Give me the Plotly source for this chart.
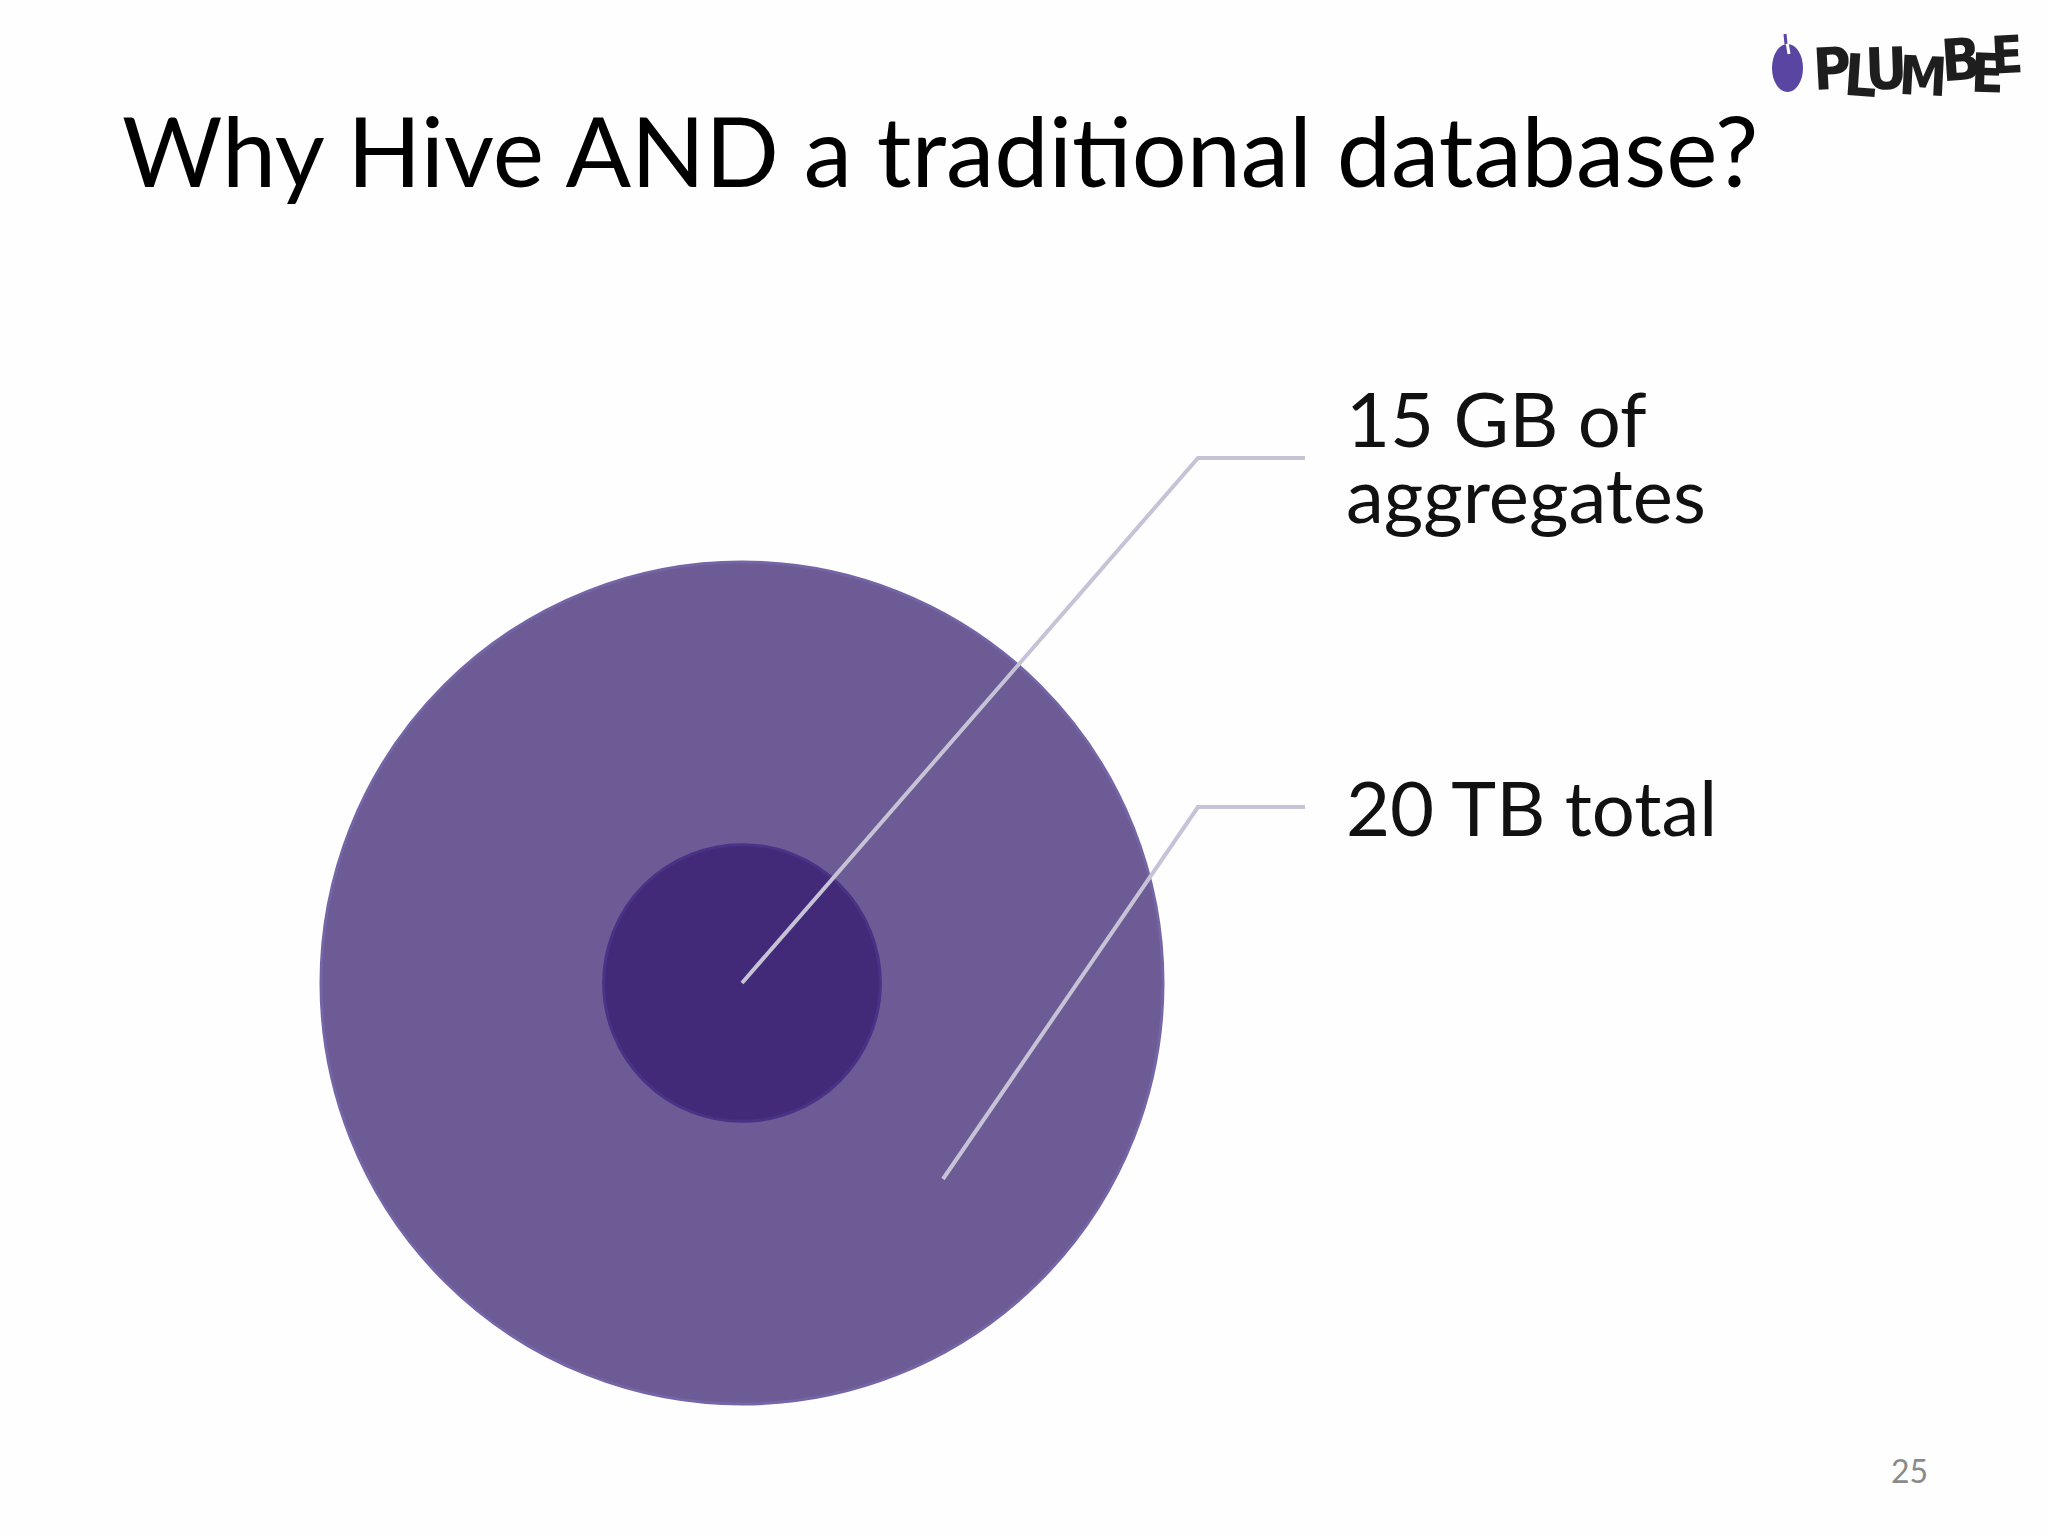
import numpy as np
import plotly.graph_objects as go

# data
segments = ["20 TB total", "15 GB of aggregates"]
label_lines = [["20 TB total"], ["15 GB of", "aggregates"]]
bubble_area = [100, 10.8]          # relative area of each disc as drawn
bubble_colors = ["#6d5b95", "#432a78"]
bubble_edges = ["#7565a6", "#4a3286"]

title = "Why Hive AND a traditional database?"
page_number = "25"
logo_letters = list("PLUMBEE")

# page is laid out in pixel units
W, H = 2048, 1536
center = (742, 983)
max_diameter = 842

fig = go.Figure()

# discs, biggest first so the small one sits on top
fig.add_trace(go.Scatter(
    x=[center[0]] * len(segments), y=[center[1]] * len(segments),
    mode="markers",
    marker=dict(
        size=np.sqrt(bubble_area),
        sizemode="diameter",
        sizeref=np.sqrt(max(bubble_area)) / max_diameter,
        color=bubble_colors,
        line=dict(color=bubble_edges, width=3),
        opacity=1,
    ),
    hoverinfo="text", hovertext=segments, showlegend=False,
))

# leader lines: anchor inside the disc -> elbow -> end by the label
leader_anchor = [(943, 1179), (742, 983)]
leader_elbow = [(1198, 807), (1198, 458)]
leader_end = [(1305, 807), (1305, 458)]
for a, e, t in zip(leader_anchor, leader_elbow, leader_end):
    fig.add_trace(go.Scatter(
        x=[a[0], e[0], t[0]], y=[a[1], e[1], t[1]],
        mode="lines", line=dict(color="#c6c3d7", width=4),
        hoverinfo="skip", showlegend=False,
    ))

label_font = dict(family="Lato, 'Open Sans', sans-serif", size=76, color="#111111")
label_baselines = [[833], [444, 520]]
for lines, bases in zip(label_lines, label_baselines):
    for txt, b in zip(lines, bases):
        fig.add_annotation(x=1344, y=b - 27, text=txt, showarrow=False,
                           xanchor="left", yanchor="middle", font=label_font)

# title
fig.add_annotation(x=120, y=149, text=title, showarrow=False,
                   xanchor="left", yanchor="middle",
                   font=dict(family="Lato, 'Open Sans', sans-serif", size=97, color="#000000"))

# page number
fig.add_annotation(x=1909, y=1470, text=page_number, showarrow=False,
                   font=dict(family="Lato, sans-serif", size=32, color="#8a8a8a"))

# logo: plum + wobbly letters
fig.add_shape(type="circle", x0=1772, x1=1803, y0=44, y1=92,
              fillcolor="#5a45a3", line=dict(width=0))
fig.add_shape(type="line", x0=1786, x1=1789, y0=36, y1=54,
              line=dict(color="#ffffff", width=3))
fig.add_shape(type="line", x0=1785, x1=1786, y0=34, y1=44,
              line=dict(color="#5a45a3", width=3))
letter_x = [1832, 1860, 1886, 1923, 1961, 1987, 2007]
letter_y = [69, 76, 69, 76, 60, 73, 55]
letter_rot = [-3, 4, -2, 3, -4, 2, -3]
letter_size = [58, 58, 58, 54, 58, 54, 52]
for ch, lx, ly, rot, sz in zip(logo_letters, letter_x, letter_y, letter_rot, letter_size):
    fig.add_annotation(x=lx, y=ly, text=f"<b>{ch}</b>", showarrow=False,
                       textangle=rot,
                       font=dict(family="'DejaVu Sans Condensed', 'DejaVu Sans', sans-serif",
                                 size=sz, color="#1e1e1e"))

fig.update_layout(
    width=W, height=H,
    margin=dict(l=0, r=0, t=0, b=0),
    paper_bgcolor="#fefefe", plot_bgcolor="#fefefe",
    xaxis=dict(range=[0, W], visible=False, fixedrange=True),
    yaxis=dict(range=[H, 0], visible=False, fixedrange=True),
)

# drop the page margin and Lato's "ti" ligature
page_css = ("document.body.style.margin='0';"
            "var s=document.createElement('style');"
            "s.textContent='text{font-variant-ligatures:none;}';"
            "document.head.appendChild(s);")
fig.write_html("out.html", config={"displayModeBar": False}, post_script=page_css)
